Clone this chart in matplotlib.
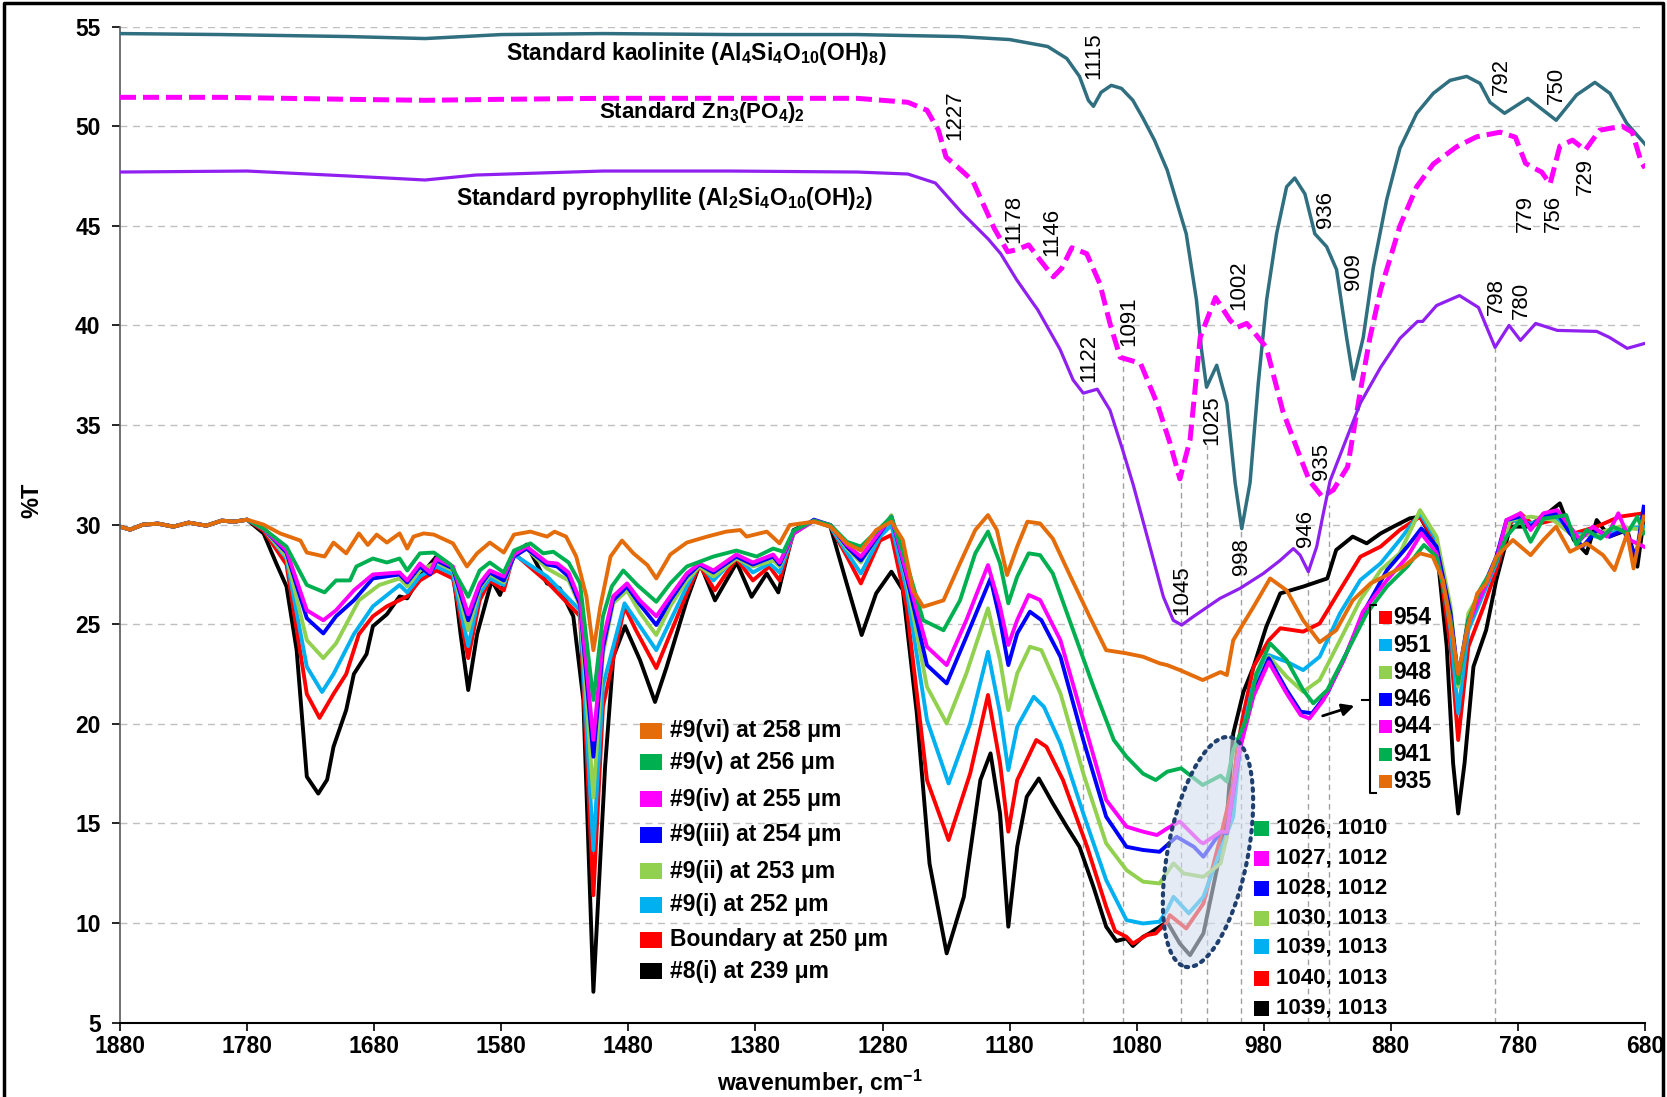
import numpy as np
import matplotlib.pyplot as plt
from matplotlib.patches import Ellipse, Rectangle
from matplotlib.transforms import IdentityTransform

plt.rcParams['font.family'] = ['Liberation Sans', 'DejaVu Sans']
plt.rcParams['mathtext.fontset'] = 'custom'
plt.rcParams['mathtext.rm'] = 'Liberation Sans'
plt.rcParams['mathtext.bf'] = 'Liberation Sans:bold'

W, H = 1667, 1097

# standards (wavenumber, %T)
kaolinite = [(1880, 54.65), (1800, 54.6), (1700, 54.5), (1640, 54.4), (1580, 54.6), (1500, 54.65),
             (1400, 54.6), (1300, 54.6), (1220, 54.5), (1180, 54.35), (1150, 54.0), (1135, 53.4),
             (1125, 52.5), (1118, 51.3), (1114, 51.0), (1108, 51.7), (1100, 52.05), (1092, 51.9),
             (1083, 51.3), (1075, 50.4), (1066, 49.3), (1056, 47.8), (1041, 44.6), (1033, 41.3),
             (1029, 38.8), (1025, 36.9), (1017, 38.0), (1009, 36.1), (1002.5, 32.1), (997.3, 29.8),
             (990.8, 32.1), (984.3, 37.1), (977.7, 41.3), (969.9, 44.6), (962, 46.96), (955.6, 47.4),
             (947.6, 46.6), (939.8, 44.6), (930.5, 43.95), (922.7, 42.8), (914.8, 39.4), (909.5, 37.3),
             (901.7, 39.4), (893.8, 42.9), (883.3, 46.3), (872.8, 48.9), (859.6, 50.65), (846.6, 51.65),
             (833.4, 52.3), (820.3, 52.5), (809.8, 52.15), (802, 51.2), (790.5, 50.65), (772.2, 51.4),
             (749.9, 50.3), (733.8, 51.57), (719.4, 52.2), (707.6, 51.65), (694.4, 50.15), (680, 49.1)]

zn_phosphate = [(1880, 51.45), (1800, 51.45), (1700, 51.35), (1640, 51.3), (1580, 51.35), (1500, 51.4),
                (1400, 51.4), (1300, 51.4), (1260, 51.2), (1245, 50.8), (1236, 49.8), (1230, 48.45),
                (1220, 47.9), (1209, 47.26), (1192, 44.86), (1181.5, 43.7), (1174.5, 43.8), (1165, 44.04),
                (1156, 43.28), (1145.6, 42.44), (1139, 42.87), (1131, 43.9), (1119.3, 43.6), (1109, 42.1),
                (1101, 40.1), (1093, 38.4), (1077, 38.1), (1064, 36.1), (1053.8, 34.1), (1046, 32.3),
                (1038, 34.25), (1030, 39.4), (1018, 41.4), (1006.6, 40.27), (1001, 39.9), (993.4, 40.1),
                (978, 38.9), (965, 35.7), (951.4, 33.4), (944, 32.2), (934, 31.4), (925.3, 31.74),
                (914, 32.9), (904, 36.7), (896.4, 39.4), (888, 41.8), (872.8, 45.0), (859.7, 46.96),
                (846.6, 48.1), (828.2, 48.97), (812.5, 49.47), (794, 49.7), (782, 49.45), (774, 48.14),
                (767.6, 47.9), (761.3, 47.7), (754.7, 47.1), (747, 49.0), (737, 49.3), (727, 48.8),
                (715.7, 49.8), (698, 50.0), (690, 49.7), (683, 48.2), (680, 47.9)]

pyrophyllite = [(1880, 47.7), (1780, 47.75), (1700, 47.5), (1640, 47.3), (1600, 47.55), (1500, 47.75),
                (1400, 47.75), (1300, 47.7), (1260, 47.6), (1238.4, 47.15), (1217.6, 45.66), (1196.7, 44.33),
                (1187, 43.6), (1174.5, 42.3), (1161.4, 41.1), (1158, 40.8), (1140.3, 38.8), (1130, 37.26),
                (1122, 36.6), (1111, 36.8), (1101, 35.75), (1091, 33.75), (1082.7, 32.0), (1069.6, 28.9),
                (1059, 26.38), (1051.2, 25.2), (1044.6, 24.96), (1035.5, 25.38), (1014.4, 26.3),
                (998.7, 26.8), (980.3, 27.55), (967.2, 28.2), (956.7, 28.8), (951.4, 28.47), (944.9, 27.64),
                (938.3, 28.9), (933.1, 30.57), (927.8, 32.2), (904, 36.1), (888, 37.9), (872.8, 39.35),
                (859, 40.2), (855, 40.2), (844, 41.0), (826, 41.5), (811, 40.9), (798, 38.9), (787, 40.0),
                (778, 39.25), (766, 40.1), (749, 39.75), (718, 39.7), (708, 39.4), (694, 38.85), (680, 39.1)]

# samples: shared flat start, then each series
start = [(1880, 29.9), (1872, 29.75), (1862, 30.0), (1850, 30.05), (1838, 29.9), (1826, 30.1),
         (1812, 29.95), (1800, 30.2), (1790, 30.15), (1780, 30.25)]

s_vi = [(1767, 30.0), (1754, 29.56), (1738, 29.2), (1733, 28.6), (1719, 28.4), (1712, 29.1), (1702, 28.56),
        (1692, 29.56), (1685, 28.98), (1678, 29.5), (1670, 29.1), (1660, 29.56), (1654, 28.8), (1649, 29.4),
        (1641, 29.56), (1633, 29.5), (1618, 29.06), (1607, 27.9), (1599, 28.56), (1589, 29.1), (1578, 28.6),
        (1570, 29.5), (1557, 29.65), (1544, 29.4), (1538, 29.65), (1529, 29.4), (1521, 28.4), (1513, 26.4),
        (1507.5, 23.7), (1502, 25.9), (1494, 28.4), (1485, 29.2), (1476, 28.56), (1465, 27.97), (1458, 27.3),
        (1447, 28.5), (1434, 29.1), (1418, 29.4), (1403, 29.65), (1392, 29.73), (1387, 29.4), (1371, 29.65),
        (1361, 29.06), (1353, 29.98), (1334, 30.15), (1321, 29.9), (1308, 29.06), (1297, 28.7), (1285, 29.73),
        (1273, 30.15), (1264, 29.23), (1256, 26.7), (1248, 25.88), (1232, 26.2), (1219, 28.06), (1207, 29.73),
        (1197, 30.48), (1190, 29.73), (1182, 27.47), (1174, 28.9), (1166, 30.15), (1156, 30.06), (1146, 29.3),
        (1132, 27.39), (1117, 25.38), (1104, 23.7), (1088, 23.54), (1075, 23.37), (1062, 23.04), (1056, 22.95),
        (1046, 22.7), (1028, 22.2), (1014, 22.6), (1009, 22.45), (1004, 24.2), (988, 25.88), (975, 27.3),
        (962, 26.7), (949, 25.2), (936, 24.1), (923, 24.7), (910, 26.2), (896, 27.05), (883, 27.47), (870, 27.9),
        (857, 28.56), (847, 28.39), (839, 27.22), (831, 24.2), (827, 22.5), (820, 24.7), (812, 26.55),
        (805, 27.05), (797, 28.39), (784, 29.23), (770, 28.47), (760, 29.23), (750, 29.9), (739, 28.64),
        (726, 29.06), (713, 28.47), (704, 27.72), (694, 29.56), (689, 27.8), (681, 30.4)]

s_v = [(1767, 29.8), (1749, 28.9), (1733, 26.97), (1719, 26.6), (1710, 27.2), (1699, 27.2), (1694, 27.9),
       (1681, 28.3), (1670, 28.1), (1660, 28.3), (1654, 27.7), (1644, 28.56), (1633, 28.6), (1620, 28.0),
       (1606, 26.38), (1597, 27.7), (1589, 28.1), (1578, 27.6), (1570, 28.7), (1557, 29.06), (1547, 28.56),
       (1539, 28.64), (1527, 28.1), (1518, 27.05), (1507.5, 21.2), (1500, 25.4), (1493, 26.9), (1484, 27.7),
       (1473, 26.97), (1458, 26.13), (1447, 27.05), (1434, 27.9), (1413, 28.4), (1395, 28.7), (1379, 28.4),
       (1366, 28.8), (1358, 28.64), (1350, 29.7), (1334, 30.2), (1321, 29.98), (1308, 29.14), (1297, 28.9),
       (1273, 30.4), (1261, 28.06), (1248, 25.2), (1232, 24.7), (1219, 26.2), (1207, 28.56), (1197, 29.65),
       (1187.5, 28.06), (1181, 26.05), (1174, 27.39), (1165, 28.56), (1156, 28.47), (1146, 27.55),
       (1130, 24.7), (1114, 21.86), (1098, 19.19), (1088, 18.35), (1075, 17.5), (1065, 17.18), (1056, 17.6),
       (1045, 17.77), (1028, 16.93), (1014, 17.4), (1009, 17.1), (1004, 18.68), (993, 20.35), (986, 22.5),
       (975, 24.04), (962, 23.2), (949, 21.7), (941, 21.03), (930, 21.7), (915, 23.54), (899, 25.55),
       (883, 26.9), (867, 27.9), (854, 28.98), (844, 28.39), (833, 25.21), (827, 22.03), (819, 25.21),
       (810, 26.72), (799, 27.9), (789, 29.4), (778, 30.23), (770, 29.14), (760, 30.3), (749, 30.4),
       (742, 30.48), (734, 28.98), (726, 29.73), (715, 29.3), (705, 29.9), (694, 29.56), (686, 30.4), (681, 29.56)]

s_iv = [(1767, 29.8), (1749, 28.7), (1733, 25.7), (1720, 25.2), (1710, 25.7), (1696, 26.7), (1681, 27.5),
        (1660, 27.6), (1654, 27.2), (1644, 28.05), (1636, 27.6), (1631, 28.3), (1618, 27.9), (1606, 25.5),
        (1597, 27.05), (1589, 27.7), (1578, 27.4), (1570, 28.5), (1560, 28.9), (1544, 28.1), (1536, 28.05),
        (1527, 27.6), (1518, 26.2), (1507.5, 19.2), (1500, 24.2), (1492, 26.4), (1481, 27.05), (1471, 26.2),
        (1458, 25.4), (1447, 26.4), (1434, 27.55), (1424, 28.05), (1413, 27.7), (1395, 28.5), (1382, 28.1),
        (1366, 28.5), (1361, 28.1), (1350, 29.56), (1334, 30.2), (1321, 29.98), (1308, 28.98), (1297, 28.39),
        (1273, 30.4), (1261, 27.55), (1245, 23.87), (1229.5, 22.95), (1214, 25.21), (1197, 27.97),
        (1187.5, 25.88), (1181, 23.96), (1174, 25.21), (1165, 26.47), (1156, 26.22), (1140, 24.2),
        (1122, 20.19), (1104, 16.18), (1088, 14.84), (1075, 14.59), (1064, 14.42), (1056, 14.75), (1046, 15.1),
        (1030, 14.08), (1027.5, 14.0), (1014, 14.58), (1009, 14.58), (999, 18.7), (988, 21.4), (976, 23.1),
        (962, 21.53), (951, 20.44), (944, 20.27), (933, 21.2), (917, 23.2), (902, 25.63), (883, 27.22),
        (867, 28.39), (856, 29.56), (844, 28.56), (833, 25.21), (827, 22.2), (819, 25.04), (807, 26.72),
        (797, 28.22), (789, 30.23), (778, 30.57), (770, 29.73), (760, 30.57), (749, 30.73), (739, 29.9),
        (731, 29.23), (721, 29.9), (710, 29.4), (701, 30.57), (692, 29.23), (681, 28.9)]

s_iii = [(1767, 29.8), (1749, 28.6), (1733, 25.3), (1720, 24.54), (1710, 25.4), (1696, 26.2), (1681, 27.3),
         (1660, 27.5), (1654, 27.1), (1644, 27.9), (1636, 27.5), (1631, 28.2), (1618, 27.8), (1606, 25.2),
         (1597, 26.9), (1589, 27.6), (1578, 27.2), (1570, 28.4), (1560, 28.8), (1544, 28.0), (1536, 27.9),
         (1527, 27.4), (1518, 26.0), (1507.5, 18.35), (1500, 23.8), (1492, 26.2), (1481, 26.9), (1471, 26.0),
         (1458, 24.96), (1447, 26.2), (1434, 27.4), (1424, 28.0), (1413, 27.6), (1395, 28.4), (1382, 28.0),
         (1366, 28.4), (1361, 28.0), (1350, 29.56), (1334, 30.25), (1321, 29.98), (1308, 28.9), (1297, 28.2),
         (1273, 30.4), (1261, 27.39), (1245, 22.95), (1229.5, 22.03), (1214, 24.37), (1195, 27.3),
         (1187.5, 25.21), (1181, 22.95), (1174, 24.54), (1164, 25.63), (1155, 25.21), (1140, 23.37),
         (1122, 19.19), (1104, 15.34), (1088, 13.83), (1075, 13.67), (1062, 13.58), (1050, 14.25),
         (1048.5, 14.33), (1035, 13.83), (1027.5, 13.33), (1014, 14.58), (1009, 14.5), (998, 19.0),
         (988, 21.53), (976, 23.29), (962, 21.7), (951, 20.61), (942, 20.53), (930, 21.53), (915, 23.54),
         (899, 25.88), (883, 27.72), (867, 28.9), (856, 29.81), (844, 28.9), (833, 25.55), (827, 22.37),
         (819, 25.21), (807, 26.9), (797, 28.39), (789, 30.23), (778, 30.4), (770, 29.9), (760, 30.4),
         (749, 30.57), (739, 29.56), (729, 28.9), (718, 29.73), (708, 29.4), (697, 29.73), (687, 28.39),
         (681, 30.9)]

s_ii = [(1767, 29.8), (1749, 28.4), (1733, 24.2), (1720, 23.3), (1710, 24.04), (1692, 26.2), (1676, 26.97),
        (1660, 27.3), (1654, 26.9), (1644, 27.7), (1631, 28.1), (1618, 27.7), (1606, 24.7), (1597, 26.8),
        (1589, 27.5), (1578, 27.1), (1570, 28.4), (1560, 28.8), (1544, 27.8), (1527, 27.2), (1518, 25.9),
        (1507.5, 16.3), (1500, 23.5), (1492, 26.05), (1481, 26.7), (1471, 25.6), (1458, 24.46), (1447, 25.9),
        (1434, 27.2), (1424, 27.9), (1413, 27.4), (1395, 28.3), (1382, 27.9), (1366, 28.2), (1361, 27.9),
        (1350, 29.56), (1334, 30.2), (1321, 29.98), (1308, 28.8), (1297, 28.1), (1273, 30.48), (1261, 27.22),
        (1245, 21.86), (1229.5, 20.02), (1214, 22.53), (1197, 25.8), (1187.5, 23.2), (1181, 20.69),
        (1174, 22.53), (1164, 23.87), (1155, 23.7), (1140, 21.53), (1122, 17.51), (1104, 14.0), (1088, 12.66),
        (1075, 12.08), (1062, 11.99), (1051, 13.0), (1043, 12.49), (1027.5, 12.32), (1014, 12.99),
        (1009, 14.33), (999, 18.8), (988, 21.53), (976, 23.37), (962, 22.37), (949, 21.61), (936, 22.2),
        (920, 24.2), (904, 26.22), (888, 27.72), (873, 28.56), (857, 30.73), (844, 29.4), (833, 25.88),
        (827, 21.86), (819, 25.55), (807, 26.9), (797, 28.22), (786, 30.23), (770, 30.4), (752, 30.23),
        (736, 29.4), (718, 29.56), (700, 29.9), (681, 29.73)]

s_i = [(1767, 29.8), (1749, 28.3), (1733, 22.87), (1721, 21.6), (1712, 22.5), (1696, 24.5), (1681, 25.9),
       (1660, 26.97), (1654, 26.6), (1644, 27.4), (1631, 27.9), (1618, 27.5), (1606, 23.9), (1597, 26.55),
       (1589, 27.3), (1578, 26.97), (1570, 28.5), (1544, 27.4), (1518, 25.7), (1507.5, 13.66), (1500, 21.9),
       (1483, 26.05), (1474, 25.2), (1458, 23.7), (1434, 26.9), (1424, 28.05), (1413, 27.2), (1395, 28.4),
       (1382, 27.6), (1369, 28.05), (1361, 27.6), (1350, 29.56), (1334, 30.2), (1321, 29.9), (1308, 28.6),
       (1297, 27.55), (1282, 29.4), (1273, 29.98), (1261, 26.72), (1245, 20.19), (1228, 17.01), (1211, 20.02),
       (1197, 23.62), (1187.5, 20.53), (1181, 17.68), (1174, 19.86), (1161, 21.36), (1153, 20.86),
       (1140, 19.02), (1122, 15.5), (1104, 12.16), (1088, 10.15), (1075, 9.98), (1062, 10.07), (1056, 10.65),
       (1051, 11.32), (1039, 10.49), (1027.5, 11.32), (1014, 13.66), (1004, 15.33), (998, 19.2), (988, 22.03),
       (976, 23.45), (962, 23.12), (949, 22.7), (936, 23.37), (920, 25.55), (904, 27.22), (888, 28.06),
       (873, 29.23), (857, 30.57), (844, 29.23), (833, 24.71), (827, 20.53), (819, 24.71), (807, 26.55),
       (797, 28.06), (786, 30.23), (770, 30.06), (752, 30.4), (736, 29.56), (718, 29.4), (700, 29.73),
       (681, 29.9)]

s_boundary = [(1767, 29.7), (1749, 28.0), (1733, 21.5), (1723, 20.3), (1712, 21.5), (1702, 22.5), (1692, 24.5),
              (1681, 25.4), (1670, 25.9), (1654, 26.4), (1644, 27.2), (1631, 27.7), (1618, 27.3), (1606, 23.3),
              (1597, 26.2), (1589, 27.2), (1578, 26.7), (1570, 28.56), (1544, 27.13), (1518, 25.4),
              (1507.5, 11.4), (1500, 20.86), (1483, 25.88), (1474, 24.7), (1458, 22.8), (1434, 26.55),
              (1424, 27.97), (1412, 26.7), (1395, 28.3), (1382, 27.2), (1369, 27.9), (1361, 27.2),
              (1350, 29.56), (1334, 30.2), (1321, 29.9), (1308, 28.4), (1297, 27.05), (1282, 29.2),
              (1273, 29.48), (1261, 25.88), (1245, 17.18), (1228, 14.17), (1211, 17.51), (1197, 21.45),
              (1187.5, 18.02), (1181, 14.59), (1174, 17.18), (1159, 19.19), (1151, 18.85), (1138, 17.18),
              (1119, 13.83), (1104, 10.82), (1097, 9.6), (1088, 9.31), (1083, 8.97), (1072, 9.4), (1065, 9.48),
              (1056, 10.07), (1054, 10.4), (1041, 9.73), (1027.5, 10.98), (1014, 14.33), (1004, 17.0),
              (1001, 18.7), (996, 20.5), (988, 22.87), (976, 24.2), (967, 24.8), (949, 24.63), (936, 25.04),
              (920, 26.72), (904, 28.39), (888, 28.9), (873, 29.73), (857, 30.4), (844, 29.06), (833, 23.87),
              (827, 19.19), (819, 23.87), (807, 25.88), (797, 27.72), (786, 30.06), (778, 30.57), (768, 29.98),
              (752, 30.23), (736, 29.56), (718, 29.9), (700, 30.4), (681, 30.57)]

s_8i = [(1767, 29.56), (1757, 28.05), (1749, 26.9), (1741, 23.7), (1733, 17.35), (1724, 16.5), (1717, 17.2),
        (1712, 18.85), (1702, 20.7), (1696, 22.5), (1686, 23.5), (1681, 24.9), (1670, 25.5), (1660, 26.4),
        (1654, 26.3), (1644, 27.4), (1631, 28.4), (1618, 27.7), (1612, 24.5), (1606, 21.7), (1599, 24.5),
        (1587.5, 27.2), (1581, 26.47), (1570, 28.5), (1560, 29.0), (1544, 27.05), (1534, 26.8), (1523.3, 25.4),
        (1515.4, 21.2), (1507.5, 6.55), (1498.3, 17.85), (1491.8, 23.37), (1482.6, 24.9), (1470.8, 23.2),
        (1459, 21.1), (1449.8, 22.87), (1434, 26.2), (1423.6, 28.05), (1411.8, 26.2), (1394.7, 28.1),
        (1383, 26.38), (1371.1, 27.55), (1362, 26.6), (1350, 29.73), (1334, 30.2), (1321, 29.9),
        (1308.2, 27.05), (1296.4, 24.46), (1285, 26.55), (1273, 27.64), (1264, 26.72), (1253, 20.53),
        (1243, 12.99), (1229.5, 8.48), (1216, 11.32), (1203, 17.18), (1195, 18.52), (1187.5, 15.5),
        (1181, 9.82), (1174, 13.83), (1166.5, 16.34), (1157, 17.26), (1146, 16.01), (1135, 14.84),
        (1125, 13.83), (1114, 11.82), (1104, 9.82), (1096, 9.1), (1088, 9.23), (1083, 8.85), (1075, 9.31),
        (1070, 9.48), (1056, 10.06), (1046, 8.97), (1038, 8.39), (1027.5, 9.48), (1017, 12.66), (1009, 15.33),
        (1004, 19.52), (996, 21.6), (988, 22.87), (978, 24.88), (967, 26.55), (949, 26.89), (930, 27.3),
        (923, 28.73), (910, 29.4), (899, 29.06), (888, 29.56), (878, 29.9), (865, 30.32), (857, 30.4),
        (844, 28.9), (836, 23.87), (831, 18.02), (827, 15.5), (822, 18.02), (815, 22.87), (805, 24.71),
        (797, 27.22), (786, 29.9), (773, 29.9), (760, 30.4), (747, 31.07), (736, 29.23), (726, 28.56),
        (718, 30.23), (708, 29.4), (694, 29.73), (686, 27.89), (681, 30.23)]

sample_labels = ['#9(vi) at 258 μm', '#9(v) at 256 μm', '#9(iv) at 255 μm', '#9(iii) at 254 μm',
                 '#9(ii) at 253 μm', '#9(i) at 252 μm', 'Boundary at 250 μm', '#8(i) at 239 μm']
sample_colors = ['#E46C0A', '#00B050', '#FF00FF', '#0000FF', '#92D050', '#00B0F0', '#FF0000', '#000000']
samples = [s_vi, s_v, s_iv, s_iii, s_ii, s_i, s_boundary, s_8i]

# minima near 1040-1010 (legend at lower right)
pair_labels = ['1026, 1010', '1027, 1012', '1028, 1012', '1030, 1013', '1039, 1013', '1040, 1013', '1039, 1013']
pair_colors = ['#00B050', '#FF00FF', '#0000FF', '#92D050', '#00B0F0', '#FF0000', '#000000']
# minima near 950-935
min_labels = ['954', '951', '948', '946', '944', '941', '935']
min_colors = ['#FF0000', '#00B0F0', '#92D050', '#0000FF', '#FF00FF', '#00B050', '#E46C0A']

# peak labels (text, wavenumber, %T)
peaks = [('1115', 1113.8, 53.56), ('1227', 1223.2, 50.57), ('1178', 1177, 45.37), ('1146', 1146.8, 44.7),
         ('1122', 1118, 38.35), ('1091', 1086.5, 40.2), ('1045', 1044.6, 26.72), ('1025', 1021, 35.25),
         ('1002', 1000, 42.03), ('998', 997.4, 28.39), ('946', 947.5, 29.8), ('935', 934.4, 33.16),
         ('936', 931.8, 45.8), ('909', 909.5, 42.7), ('792', 792.8, 52.49), ('750', 749.5, 52.07),
         ('779', 774.4, 45.63), ('756', 752.1, 45.63), ('729', 727.2, 47.47), ('798', 796.7, 41.44),
         ('780', 777.1, 41.27)]

guide_x = [1122, 1091, 1045, 1025, 998, 945, 929, 798]
guide_top = [36.5, 38.3, 32.2, 34.0, 29.8, 27.6, 31.0, 38.9]

fig = plt.figure(figsize=(W / 100, H / 100), dpi=100)
ax = fig.add_axes([120 / W, 1 - 1022.7 / H, 1525 / W, 996.1 / H])

for yv in range(10, 60, 5):
    ax.axhline(yv, color='#BFBFBF', lw=1, ls=(0, (5, 4)), zorder=0)
ax.vlines(guide_x, 5, guide_top, colors='#A0A0A0', lw=1, linestyles=(0, (4, 3)), zorder=0.5)

k = np.array(kaolinite)
ax.plot(k[:, 0], k[:, 1], color='#2F6F80', lw=2.5, solid_joinstyle='round', zorder=3)
z = np.array(zn_phosphate)
ax.plot(z[:, 0], z[:, 1], color='#FF00FF', lw=3.6, dashes=(3.2, 1.4), zorder=3)
p = np.array(pyrophyllite)
ax.plot(p[:, 0], p[:, 1], color='#9020F0', lw=2.3, solid_joinstyle='round', zorder=3)

for s, c in list(zip(samples, sample_colors))[::-1]:
    d = np.array(start + s)
    ax.plot(d[:, 0], d[:, 1], color=c, lw=2.8, solid_joinstyle='round', zorder=2)

ax.text(1426.6, 53.66, r'Standard kaolinite (Al$_\mathbf{4}$Si$_\mathbf{4}$O$_\mathbf{10}$(OH)$_\mathbf{8}$)',
        ha='center', va='center', fontsize=16.5, weight='bold')
ax.text(1422.4, 50.68, r'Standard Zn$_\mathbf{3}$(PO$_\mathbf{4}$)$_\mathbf{2}$',
        ha='center', va='center', fontsize=16, weight='bold')
ax.text(1451.7, 46.36, r'Standard pyrophyllite (Al$_\mathbf{2}$Si$_\mathbf{4}$O$_\mathbf{10}$(OH)$_\mathbf{2}$)',
        ha='center', va='center', fontsize=16.5, weight='bold')

for t, xw, yv in peaks:
    ax.text(xw, yv, t, rotation=90, ha='center', va='center', fontsize=16, zorder=4)

ax.set_xlim(1880, 680)
ax.set_ylim(5, 55)
ax.set_xticks(np.arange(1880, 679, -100))
ax.set_yticks(np.arange(5, 56, 5))
ax.tick_params(axis='both', direction='out', length=6, width=1.2, labelsize=16.5)
ax.tick_params(axis='y', pad=8)
ax.tick_params(axis='x', pad=3)
for lab in ax.get_xticklabels() + ax.get_yticklabels():
    lab.set_fontweight('bold')
ax.spines['top'].set_visible(False)
ax.spines['right'].set_visible(False)
ax.spines['left'].set_color('#595959')
ax.spines['left'].set_linewidth(1.2)
ax.spines['bottom'].set_linewidth(1.5)

fig.text(32 / W, 1 - 500 / H, '%T', rotation=90, ha='center', va='center', fontsize=17, weight='bold')
fig.text(820 / W, 1 - 1068 / H, r'wavenumber, cm$^\mathbf{-1}$', ha='center', va='top',
         fontsize=16.5, weight='bold')


def key(x0, yc, w, h, color, text, tx, fs):
    fig.add_artist(Rectangle((x0 / W, 1 - (yc + h / 2) / H), w / W, h / H, transform=fig.transFigure,
                             facecolor=color, edgecolor='none', zorder=5))
    fig.text(tx / W, 1 - yc / H, text, ha='left', va='center', fontsize=fs, weight='bold', zorder=5)


rows1 = [730.5, 762.2, 799.2, 834.5, 871.2, 904.5, 939.8, 971.2]
for yc, c, t in zip(rows1, sample_colors, sample_labels):
    key(640, yc, 22, 16, c, t, 670, 16.5)

rows2 = [828.3, 858.3, 888.3, 918.3, 946.7, 978.3, 1008.3]
for yc, c, t in zip(rows2, pair_colors, pair_labels):
    key(1254, yc, 15, 15, c, t, 1276, 16)

rows3 = [617.7, 645, 672.7, 699.3, 726.7, 754.3, 781.7]
for yc, c, t in zip(rows3, min_colors, min_labels):
    key(1379, yc, 12.5, 12.5, c, t, 1393, 16.5)

# bracket and arrow
bx = [1376, 1370, 1370, 1376]
by = [605, 605, 793, 793]
fig.add_artist(plt.Line2D([v / W for v in bx], [1 - v / H for v in by], color='black', lw=1.5,
                          transform=fig.transFigure))
fig.add_artist(plt.Line2D([1362 / W, 1370 / W], [1 - 700 / H, 1 - 700 / H], color='black', lw=1.5,
                          transform=fig.transFigure))
ax.annotate('', xy=(1357 / W, 1 - 705 / H), xycoords='figure fraction',
            xytext=(1320 / W, 1 - 716.7 / H), textcoords='figure fraction',
            arrowprops=dict(arrowstyle='-|>', color='black', lw=2, mutation_scale=18))

# highlighted ellipse
fig.add_artist(Ellipse((1208, H - 852), 80, 234, angle=-11, transform=IdentityTransform(),
                       facecolor='#D5DFEE', alpha=0.6, edgecolor='none', zorder=4))
fig.add_artist(Ellipse((1208, H - 852), 80, 234, angle=-11, transform=IdentityTransform(),
                       facecolor='none', edgecolor='#1F3F6E', lw=3, ls=(0, (0.6, 1.4)),
                       capstyle='round', zorder=4))

# outer frame
fig.add_artist(plt.Line2D([4 / W, 4 / W, 1663 / W, 1663 / W], [0, 1 - 3 / H, 1 - 3 / H, 0],
                          color='black', lw=2.5, transform=fig.transFigure))

fig.savefig('out.png', dpi=100)
